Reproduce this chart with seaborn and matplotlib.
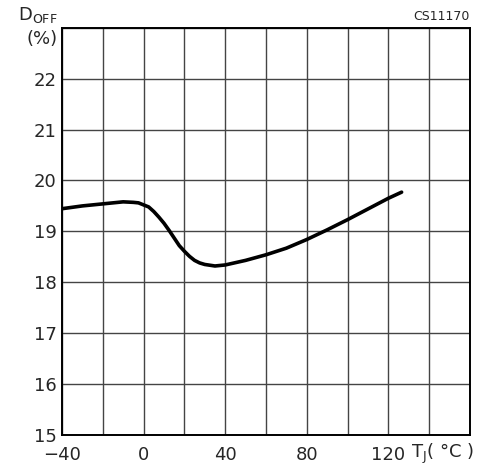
import numpy as np
import pandas as pd
import matplotlib
matplotlib.use("Agg")
import matplotlib.pyplot as plt
import seaborn as sns

# curve
temp_c = [-40, -30, -20, -10, -5, -2.5, 0, 2.5, 5, 7.5, 10, 12.5, 15, 17.5, 20, 22.5, 25, 27.5,
          30, 35, 40, 50, 60, 70, 80, 90, 100, 110, 120, 126.5]
d_off = [19.445, 19.50, 19.54, 19.58, 19.57, 19.56, 19.52, 19.48, 19.39, 19.28, 19.16, 19.02, 18.87, 18.72,
         18.61, 18.51, 18.43, 18.38, 18.35, 18.32, 18.34, 18.43, 18.54, 18.67, 18.84, 19.03, 19.23, 19.44,
         19.65, 19.77]

x_ticks = [-40, -20, 0, 20, 40, 60, 80, 100, 120, 140, 160]
x_labels = ["\u221240", "", "0", "", "40", "", "80", "", "120", "", ""]
y_ticks = [15, 16, 17, 18, 19, 20, 21, 22, 23]
y_labels = ["15", "16", "17", "18", "19", "20", "21", "22", ""]

df = pd.DataFrame({"T": temp_c, "D": d_off})

sns.set_style("white")
plt.rcParams["font.family"] = ["DejaVu Sans"]

fig = plt.figure(figsize=(4.88, 4.66), dpi=100)
ax = fig.add_axes([0.127, 0.0665, 0.836, 0.874])

sns.lineplot(data=df, x="T", y="D", color="black", linewidth=2.6, ax=ax)

ax.set_xlim(-40, 160)
ax.set_ylim(15, 23)
ax.set_xticks(x_ticks)
ax.set_xticklabels(x_labels, fontsize=13)
ax.set_yticks(y_ticks)
ax.set_yticklabels(y_labels, fontsize=13)
ax.tick_params(axis="x", length=0, pad=8)
ax.tick_params(axis="y", length=0, pad=4)
ax.grid(True, color="#444444", linewidth=1.0)
for s in ax.spines.values():
    s.set_color("black")
    s.set_linewidth(1.4)
ax.set_xlabel("")
ax.set_ylabel("")

fig.text(0.842, 0.026, "T$_\\mathregular{J}$( \u00b0C )", fontsize=13, ha="left", va="center")
ax.text(-42, 23.05, "D$_\\mathregular{OFF}$", fontsize=13, ha="right", va="bottom")
ax.text(-42, 22.95, "(%)", fontsize=13, ha="right", va="top")
ax.text(160, 23.1, "CS11170", fontsize=9, ha="right", va="bottom")

fig.savefig("out.png", dpi=100)
